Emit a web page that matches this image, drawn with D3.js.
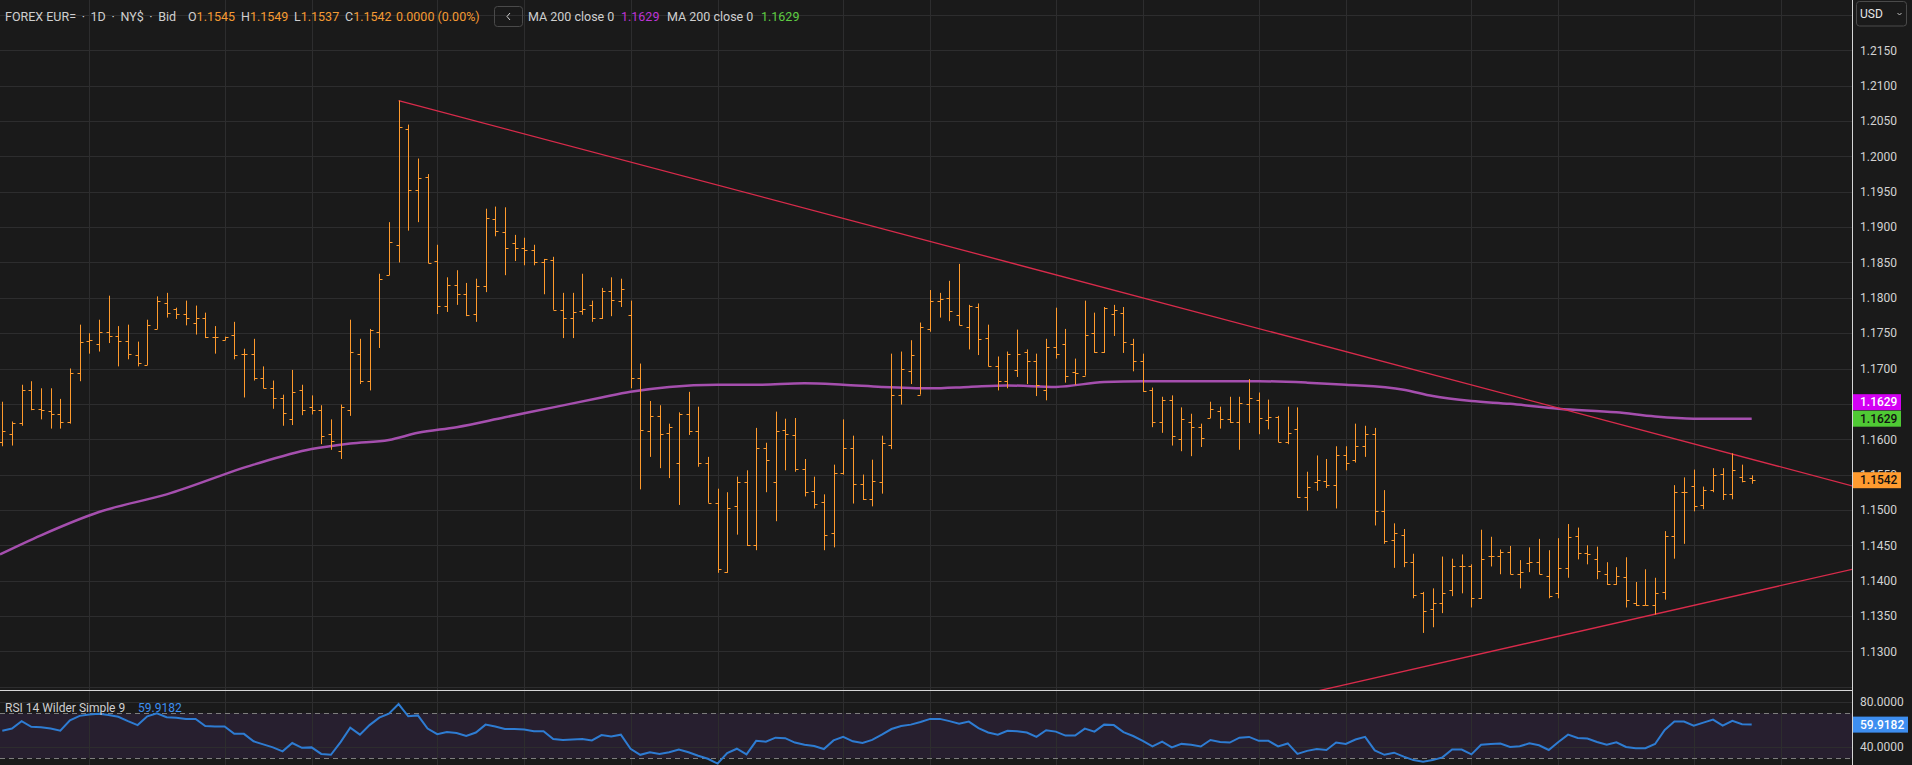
<!DOCTYPE html>
<html lang="en">
<head>
<meta charset="UTF-8">
<title>FOREX EUR= 1D</title>
<script src="https://cdn.jsdelivr.net/npm/d3@7"></script>
<style>
  html, body { margin: 0; padding: 0; background: #1a1a1a; overflow: hidden; }
  svg { display: block; font-family: Roboto, "Liberation Sans", Arial, sans-serif; }
</style>
</head>
<body>
<div id="container"></div>
<script>
// daily OHLC bars, oldest first
const open = [
  1.1596, 1.1608, 1.1623, 1.1669, 1.1643, 1.1640, 1.1636, 1.1625, 1.1693, 1.1739,
  1.1734, 1.1751, 1.1746, 1.1739, 1.1719, 1.1705, 1.1756, 1.1793, 1.1784, 1.1777,
  1.1765, 1.1771, 1.1744, 1.1741, 1.1747, 1.1721, 1.1721, 1.1687, 1.1672, 1.1658,
  1.1629, 1.1669, 1.1645, 1.1641, 1.1608, 1.1583, 1.1641, 1.1721, 1.1682, 1.1751,
  1.1832, 1.1874, 1.2039, 1.1952, 1.1971, 1.1852, 1.1789, 1.1818, 1.1805, 1.1777,
  1.1816, 1.1912, 1.1893, 1.1878, 1.1870, 1.1868, 1.1850, 1.1853, 1.1783, 1.1771,
  1.1781, 1.1790, 1.1771, 1.1810, 1.1795, 1.1776, 1.1687, 1.1612, 1.1633, 1.1609,
  1.1566, 1.1636, 1.1612, 1.1566, 1.1510, 1.1412, 1.1506, 1.1540, 1.1450, 1.1588,
  1.1540, 1.1613, 1.1606, 1.1558, 1.1527, 1.1511, 1.1467, 1.1552, 1.1588, 1.1536,
  1.1516, 1.1540, 1.1592, 1.1663, 1.1697, 1.1663, 1.1756, 1.1796, 1.1800, 1.1776,
  1.1759, 1.1787, 1.1743, 1.1703, 1.1682, 1.1698, 1.1724, 1.1711, 1.1669, 1.1731,
  1.1734, 1.1695, 1.1690, 1.1750, 1.1723, 1.1777, 1.1779, 1.1735, 1.1711, 1.1669,
  1.1624, 1.1656, 1.1600, 1.1624, 1.1617, 1.1630, 1.1640, 1.1629, 1.1624, 1.1650,
  1.1656, 1.1627, 1.1631, 1.1596, 1.1614, 1.1518, 1.1540, 1.1541, 1.1535, 1.1577,
  1.1571, 1.1591, 1.1607, 1.1498, 1.1458, 1.1464, 1.1426, 1.1383, 1.1360, 1.1369,
  1.1386, 1.1421, 1.1421, 1.1375, 1.1435, 1.1435, 1.1441, 1.1409, 1.1425, 1.1426,
  1.1407, 1.1383, 1.1418, 1.1463, 1.1439, 1.1430, 1.1410, 1.1395, 1.1405, 1.1368,
  1.1366, 1.1366, 1.1384, 1.1463, 1.1525, 1.1534, 1.1507, 1.1528, 1.1551, 1.1522,
  1.1547, 1.1545
]
const high = [
  1.1653, 1.1625, 1.1677, 1.1682, 1.1672, 1.1672, 1.1657, 1.1700, 1.1762, 1.1750,
  1.1769, 1.1803, 1.1760, 1.1762, 1.1738, 1.1769, 1.1802, 1.1807, 1.1786, 1.1796,
  1.1789, 1.1779, 1.1760, 1.1745, 1.1766, 1.1728, 1.1742, 1.1703, 1.1683, 1.1663,
  1.1698, 1.1677, 1.1662, 1.1648, 1.1628, 1.1649, 1.1769, 1.1742, 1.1756, 1.1834,
  1.1907, 1.2079, 1.2045, 1.1997, 1.1975, 1.1875, 1.1829, 1.1839, 1.1821, 1.1827,
  1.1926, 1.1929, 1.1928, 1.1889, 1.1885, 1.1875, 1.1855, 1.1858, 1.1807, 1.1807,
  1.1834, 1.1796, 1.1814, 1.1829, 1.1827, 1.1796, 1.1707, 1.1654, 1.1648, 1.1622,
  1.1638, 1.1667, 1.1646, 1.1575, 1.1530, 1.1525, 1.1547, 1.1556, 1.1616, 1.1595,
  1.1639, 1.1629, 1.1630, 1.1572, 1.1547, 1.1522, 1.1564, 1.1628, 1.1605, 1.1550,
  1.1571, 1.1605, 1.1721, 1.1724, 1.1740, 1.1765, 1.1811, 1.1807, 1.1824, 1.1848,
  1.1790, 1.1792, 1.1762, 1.1717, 1.1724, 1.1755, 1.1727, 1.1721, 1.1742, 1.1786,
  1.1756, 1.1714, 1.1796, 1.1779, 1.1787, 1.1790, 1.1787, 1.1742, 1.1721, 1.1673,
  1.1660, 1.1662, 1.1645, 1.1636, 1.1622, 1.1653, 1.1646, 1.1660, 1.1660, 1.1685,
  1.1666, 1.1656, 1.1633, 1.1646, 1.1645, 1.1554, 1.1577, 1.1572, 1.1590, 1.1590,
  1.1622, 1.1619, 1.1616, 1.1528, 1.1481, 1.1473, 1.1438, 1.1384, 1.1389, 1.1434,
  1.1431, 1.1437, 1.1423, 1.1472, 1.1462, 1.1444, 1.1449, 1.1429, 1.1447, 1.1459,
  1.1443, 1.1460, 1.1480, 1.1475, 1.1450, 1.1448, 1.1426, 1.1419, 1.1433, 1.1398,
  1.1416, 1.1404, 1.1470, 1.1535, 1.1546, 1.1557, 1.1533, 1.1559, 1.1559, 1.1580,
  1.1564, 1.1549
]
const low = [
  1.1590, 1.1591, 1.1619, 1.1641, 1.1628, 1.1615, 1.1615, 1.1622, 1.1682, 1.1721,
  1.1724, 1.1736, 1.1703, 1.1713, 1.1703, 1.1705, 1.1756, 1.1772, 1.1770, 1.1761,
  1.1748, 1.1743, 1.1721, 1.1740, 1.1713, 1.1659, 1.1683, 1.1672, 1.1643, 1.1619,
  1.1620, 1.1634, 1.1635, 1.1593, 1.1585, 1.1572, 1.1633, 1.1678, 1.1669, 1.1729,
  1.1832, 1.1850, 1.1895, 1.1907, 1.1849, 1.1777, 1.1780, 1.1790, 1.1774, 1.1766,
  1.1808, 1.1887, 1.1832, 1.1852, 1.1846, 1.1846, 1.1805, 1.1783, 1.1743, 1.1743,
  1.1776, 1.1766, 1.1770, 1.1774, 1.1787, 1.1672, 1.1529, 1.1575, 1.1559, 1.1545,
  1.1507, 1.1606, 1.1561, 1.1510, 1.1411, 1.1411, 1.1465, 1.1449, 1.1443, 1.1525,
  1.1484, 1.1556, 1.1554, 1.1519, 1.1502, 1.1443, 1.1447, 1.1550, 1.1509, 1.1514,
  1.1505, 1.1523, 1.1586, 1.1649, 1.1678, 1.1663, 1.1752, 1.1772, 1.1767, 1.1761,
  1.1727, 1.1719, 1.1703, 1.1669, 1.1672, 1.1688, 1.1678, 1.1661, 1.1655, 1.1714,
  1.1680, 1.1677, 1.1690, 1.1722, 1.1722, 1.1746, 1.1722, 1.1696, 1.1667, 1.1617,
  1.1609, 1.1591, 1.1583, 1.1576, 1.1589, 1.1630, 1.1615, 1.1623, 1.1585, 1.1623,
  1.1607, 1.1614, 1.1596, 1.1593, 1.1517, 1.1499, 1.1527, 1.1531, 1.1502, 1.1556,
  1.1567, 1.1575, 1.1478, 1.1452, 1.1418, 1.1419, 1.1375, 1.1326, 1.1334, 1.1354,
  1.1378, 1.1382, 1.1362, 1.1374, 1.1420, 1.1409, 1.1409, 1.1389, 1.1412, 1.1409,
  1.1375, 1.1375, 1.1404, 1.1430, 1.1423, 1.1402, 1.1394, 1.1394, 1.1362, 1.1364,
  1.1365, 1.1352, 1.1373, 1.1431, 1.1452, 1.1498, 1.1501, 1.1525, 1.1514, 1.1515,
  1.1539, 1.1537
]
const close = [
  1.1611, 1.1623, 1.1669, 1.1643, 1.1642, 1.1636, 1.1625, 1.1693, 1.1738, 1.1741,
  1.1751, 1.1746, 1.1739, 1.1721, 1.1708, 1.1761, 1.1795, 1.1779, 1.1777, 1.1771,
  1.1771, 1.1745, 1.1744, 1.1744, 1.1719, 1.1721, 1.1687, 1.1672, 1.1658, 1.1637,
  1.1667, 1.1641, 1.1641, 1.1605, 1.1597, 1.1646, 1.1723, 1.1682, 1.1754, 1.1827,
  1.1879, 1.2042, 1.1952, 1.1969, 1.1849, 1.1789, 1.1818, 1.1805, 1.1776, 1.1817,
  1.1913, 1.1895, 1.1871, 1.1870, 1.1868, 1.1850, 1.1855, 1.1783, 1.1771, 1.1780,
  1.1784, 1.1771, 1.1810, 1.1797, 1.1812, 1.1687, 1.1613, 1.1633, 1.1607, 1.1617,
  1.1636, 1.1611, 1.1566, 1.1510, 1.1416, 1.1502, 1.1539, 1.1450, 1.1588, 1.1570,
  1.1612, 1.1607, 1.1558, 1.1526, 1.1509, 1.1465, 1.1552, 1.1588, 1.1536, 1.1516,
  1.1541, 1.1595, 1.1663, 1.1700, 1.1719, 1.1758, 1.1795, 1.1799, 1.1781, 1.1761,
  1.1788, 1.1742, 1.1703, 1.1682, 1.1721, 1.1721, 1.1711, 1.1677, 1.1731, 1.1721,
  1.1690, 1.1693, 1.1748, 1.1724, 1.1785, 1.1783, 1.1737, 1.1711, 1.1668, 1.1624,
  1.1656, 1.1604, 1.1628, 1.1617, 1.1602, 1.1643, 1.1629, 1.1624, 1.1651, 1.1658,
  1.1630, 1.1632, 1.1596, 1.1609, 1.1518, 1.1533, 1.1542, 1.1535, 1.1577, 1.1567,
  1.1591, 1.1607, 1.1498, 1.1456, 1.1467, 1.1426, 1.1380, 1.1357, 1.1369, 1.1383,
  1.1420, 1.1421, 1.1375, 1.1431, 1.1435, 1.1441, 1.1410, 1.1412, 1.1427, 1.1410,
  1.1378, 1.1418, 1.1462, 1.1439, 1.1438, 1.1413, 1.1395, 1.1407, 1.1373, 1.1365,
  1.1365, 1.1383, 1.1463, 1.1526, 1.1525, 1.1505, 1.1528, 1.1550, 1.1522, 1.1557,
  1.1541, 1.1542
]
// RSI 14, one value per bar
const rsi = [
  54.5, 56.4, 63.0, 58.0, 57.6, 56.4, 54.5, 63.8, 67.7, 68.8,
  69.6, 68.4, 66.9, 63.0, 59.5, 67.3, 70.0, 66.5, 66.1, 65.0,
  65.0, 58.7, 58.3, 58.3, 51.7, 51.7, 45.1, 42.4, 39.7, 36.2,
  43.6, 39.3, 39.7, 33.9, 33.1, 44.4, 57.2, 51.0, 59.5, 66.1,
  69.6, 78.2, 67.3, 68.1, 56.4, 51.4, 53.3, 52.5, 49.8, 52.9,
  59.9, 58.3, 56.0, 56.0, 55.6, 54.1, 54.1, 47.1, 46.3, 46.7,
  47.1, 45.9, 50.6, 49.4, 51.0, 38.5, 33.1, 35.4, 33.9, 35.4,
  37.8, 35.4, 32.3, 29.6, 25.3, 34.7, 38.5, 33.5, 45.5, 44.8,
  48.3, 47.9, 44.0, 42.0, 40.9, 38.2, 45.9, 49.0, 45.1, 43.6,
  46.3, 51.0, 56.0, 58.7, 59.9, 62.2, 65.0, 65.0, 63.0, 60.7,
  62.6, 56.8, 52.9, 51.0, 54.5, 54.1, 52.9, 49.0, 54.9, 53.7,
  50.2, 50.2, 56.4, 53.7, 59.9, 59.5, 53.3, 49.8, 45.5, 40.5,
  44.8, 39.7, 42.8, 42.0, 40.5, 46.3, 44.4, 44.0, 48.3, 49.0,
  45.5, 45.5, 40.5, 43.2, 33.9, 36.6, 38.2, 37.4, 44.0, 42.8,
  46.7, 49.0, 37.0, 33.1, 35.0, 31.5, 28.4, 26.9, 28.4, 30.8,
  37.8, 37.8, 33.5, 42.0, 42.8, 43.2, 40.1, 40.7, 43.3, 41.6,
  37.4, 44.5, 51.0, 48.1, 47.5, 44.5, 42.1, 44.2, 40.1, 38.9,
  38.9, 42.7, 55.2, 62.6, 62.6, 59.0, 61.7, 64.4, 59.0, 63.2,
  60.2, 59.9182
]
// 200-day moving average, read at a handful of bar positions
const maIdx = [-0.24, 4, 10, 17, 26, 32, 36, 40, 43, 47, 52, 57, 62, 65, 69, 74, 78, 83, 87, 91,
  96, 100, 104, 109, 114, 118, 123, 130, 135, 139, 145, 148, 152, 156, 161, 167, 171, 175, 181]
const maVal = [1.1437, 1.1464, 1.1497, 1.1522, 1.1564, 1.1586, 1.1594, 1.1599, 1.1609, 1.1617,
  1.1631, 1.1645, 1.1659, 1.1667, 1.1674, 1.1677, 1.1677, 1.1679, 1.1677, 1.1674,
  1.1672, 1.1674, 1.1676, 1.1674, 1.1681, 1.1682, 1.1682, 1.1682, 1.1680, 1.1677,
  1.1670, 1.1661, 1.1654, 1.1650, 1.1643, 1.1638, 1.1632, 1.1629, 1.1629]
// drawn trend lines: [bar position, price] at each end
const upperTrend = [[41, 1.2079], [191.4, 1.1534]]
const lowerTrend = [[130, 1.1225], [191.4, 1.1416]]

const priceTicks = [1.2150, 1.2100, 1.2050, 1.2000, 1.1950, 1.1900, 1.1850, 1.1800, 1.1750,
  1.1700, 1.1650, 1.1600, 1.1550, 1.1500, 1.1450, 1.1400, 1.1350, 1.1300]
const rsiTicks = [80, 40]
const rsiBand = [70, 30]
const timeGrid = [9, 23, 32, 45, 54, 65, 74, 87, 96, 109, 118, 130, 139, 152, 161, 175, 184]

const lastClose = 1.1542, maLast = 1.1629, rsiLast = 59.9182

const W = 1912, H = 765
const plotR = 1852, mainB = 690, rsiT = 691
const bg = "#1a1a1a", grid = "#2d2d2e", barCol = "#ff9a2c"

const svg = d3.select("#container").append("svg").attr("width", W).attr("height", H)
svg.append("rect").attr("width", W).attr("height", H).attr("fill", bg)

const x = d3.scaleLinear().domain([0, 181]).range([2.3, 1751.7])
const y = d3.scaleLinear().domain([1.13, 1.215]).range([651.3, 50.35])
const ry = d3.scaleLinear().domain([30, 80]).range([758.3, 702])

const defs = svg.append("defs")
defs.append("clipPath").attr("id", "clipMain").append("rect").attr("width", plotR).attr("height", mainB)
defs.append("clipPath").attr("id", "clipRsi").append("rect").attr("y", rsiT).attr("width", plotR).attr("height", H - rsiT)

const crisp = v => Math.round(v) + 0.5

// price grid, every 0.005 across the whole panel
const gridPrices = d3.scaleLinear().domain([y.invert(mainB), y.invert(0)]).ticks(20)
svg.append("g").selectAll("line").data(gridPrices).join("line")
  .attr("x1", 0).attr("x2", plotR).attr("y1", d => crisp(y(d))).attr("y2", d => crisp(y(d)))
  .attr("stroke", grid)

// RSI band and grid
svg.append("rect").attr("x", 0).attr("width", plotR)
  .attr("y", ry(rsiBand[0])).attr("height", ry(rsiBand[1]) - ry(rsiBand[0]))
  .attr("fill", "#271f2f")
svg.append("g").selectAll("line").data(rsiTicks).join("line")
  .attr("x1", 0).attr("x2", plotR).attr("y1", d => crisp(ry(d))).attr("y2", d => crisp(ry(d)))
  .attr("stroke", grid)

// date grid
svg.append("g").selectAll("line").data(timeGrid).join("line")
  .attr("x1", d => crisp(x(d))).attr("x2", d => crisp(x(d))).attr("y1", 0).attr("y2", H)
  .attr("stroke", grid)

svg.append("g").selectAll("line").data(rsiBand).join("line")
  .attr("x1", 0).attr("x2", plotR).attr("y1", d => crisp(ry(d))).attr("y2", d => crisp(ry(d)))
  .attr("stroke", "#7d7d7d").attr("stroke-dasharray", "5,4")

const main = svg.append("g").attr("clip-path", "url(#clipMain)")

// MA 200
const maLine = d3.line().x(d => x(d[0])).y(d => y(d[1])).curve(d3.curveMonotoneX)
main.append("path").datum(maIdx.map((d, i) => [d, maVal[i]]))
  .attr("d", maLine).attr("fill", "none").attr("stroke", "#a54fae").attr("stroke-width", 2.5)

// trend lines
const tLine = d3.line().x(d => x(d[0])).y(d => y(d[1]))
main.selectAll(".trend").data([upperTrend, lowerTrend]).join("path").attr("class", "trend")
  .attr("d", tLine).attr("fill", "none").attr("stroke", "#d92b4b").attr("stroke-width", 1.3)

// OHLC bars
const bars = main.append("g").attr("stroke", barCol).attr("stroke-width", 1)
const idx = d3.range(close.length)
bars.selectAll(".hl").data(idx).join("line").attr("class", "hl")
  .attr("x1", i => crisp(x(i))).attr("x2", i => crisp(x(i)))
  .attr("y1", i => y(high[i])).attr("y2", i => y(low[i]))
bars.selectAll(".op").data(idx).join("line").attr("class", "op")
  .attr("x1", i => crisp(x(i)) - 3).attr("x2", i => crisp(x(i)))
  .attr("y1", i => crisp(y(open[i]))).attr("y2", i => crisp(y(open[i])))
bars.selectAll(".cl").data(idx).join("line").attr("class", "cl")
  .attr("x1", i => crisp(x(i))).attr("x2", i => crisp(x(i)) + 3)
  .attr("y1", i => crisp(y(close[i]))).attr("y2", i => crisp(y(close[i])))

// RSI line
svg.append("g").attr("clip-path", "url(#clipRsi)").append("path").datum(rsi)
  .attr("d", d3.line().x((d, i) => x(i)).y(d => ry(d)))
  .attr("fill", "none").attr("stroke", "#2e7cd2").attr("stroke-width", 2)

// separators
svg.append("line").attr("x1", 0).attr("x2", plotR).attr("y1", mainB + 0.5).attr("y2", mainB + 0.5)
  .attr("stroke", "#d6d6d6")
svg.append("line").attr("x1", plotR + 0.5).attr("x2", plotR + 0.5).attr("y1", 0).attr("y2", H)
  .attr("stroke", "#d6d6d6")

// right axes
const yAxis = svg.append("g").attr("transform", `translate(${plotR},0)`)
  .call(d3.axisRight(y).tickValues(priceTicks).tickFormat(d3.format(".4f")).tickSize(0).tickPadding(8))
const rAxis = svg.append("g").attr("transform", `translate(${plotR},0)`)
  .call(d3.axisRight(ry).tickValues(rsiTicks).tickFormat(d3.format(".4f")).tickSize(0).tickPadding(8))
for (const ax of [yAxis, rAxis]) {
  ax.select(".domain").remove()
  ax.selectAll("text").attr("fill", "#d2d2d2").attr("font-size", 12)
    .attr("font-family", "Roboto, 'Liberation Sans', Arial, sans-serif")
}

// last value tags (the MA tag is pushed up so it does not sit on the close tag)
const tags = [
  { v: y(maLast) - 16.5, t: d3.format(".4f")(maLast), bg: "#d400f4", fg: "#ffffff", w: 48 },
  { v: y(maLast), t: d3.format(".4f")(maLast), bg: "#4fc934", fg: "#111111", w: 48 },
  { v: y(lastClose), t: d3.format(".4f")(lastClose), bg: "#ff9b2f", fg: "#111111", w: 48 },
  { v: ry(rsiLast), t: d3.format(".4f")(rsiLast), bg: "#3d8ef0", fg: "#ffffff", w: 55 }
]
const tg = svg.append("g").selectAll("g").data(tags).join("g")
tg.append("rect").attr("x", plotR + 1).attr("y", d => d.v - 8).attr("width", d => d.w).attr("height", 16)
  .attr("fill", d => d.bg)
tg.append("text").attr("x", plotR + 8).attr("y", d => d.v).attr("dy", "0.35em")
  .attr("font-size", 12).attr("font-weight", 500).attr("fill", d => d.fg).text(d => d.t)

// USD selector
svg.append("rect").attr("x", 1856.5).attr("y", 1.5).attr("width", 50).attr("height", 24.5).attr("rx", 3)
  .attr("fill", "none").attr("stroke", "#4a4a4a")
svg.append("text").attr("x", 1860).attr("y", 18).attr("font-size", 12).attr("fill", "#e6e6e6").text("USD")
svg.append("path").attr("d", "M1897.5,13 L1899.5,15 L1901.5,13").attr("fill", "none").attr("stroke", "#bdbdbd")

// header legend
const f4 = d3.format(".4f")
const sep = "\u2009·\u2009"
const head = svg.append("g").attr("font-size", 12.5)
head.append("text").attr("x", 5).attr("y", 21).attr("fill", "#cfcfcf")
  .text(`FOREX EUR= ${sep} 1D ${sep} NY$ ${sep} Bid`)
const ohlc = [["O", open.at(-1), 188], ["H", high.at(-1), 241], ["L", low.at(-1), 294], ["C", close.at(-1), 345]]
ohlc.forEach(([k, v, px]) => {
  const t = head.append("text").attr("x", px).attr("y", 21)
  t.append("tspan").attr("fill", "#cfcfcf").text(k)
  t.append("tspan").attr("fill", "#f59a33").text(f4(v))
})
head.append("text").attr("x", 396).attr("y", 21).attr("fill", "#f59a33").text("0.0000 (0.00%)")
head.append("rect").attr("x", 494.5).attr("y", 6.5).attr("width", 28).attr("height", 20).attr("rx", 3)
  .attr("fill", "none").attr("stroke", "#4a4a4a")
head.append("path").attr("d", "M510,13 L507,16.5 L510,20").attr("fill", "none").attr("stroke", "#d0d0d0")
head.append("text").attr("x", 528).attr("y", 21).attr("fill", "#cfcfcf").text("MA 200 close 0")
head.append("text").attr("x", 621).attr("y", 21).attr("fill", "#bd34d6").text(f4(maLast))
head.append("text").attr("x", 667).attr("y", 21).attr("fill", "#cfcfcf").text("MA 200 close 0")
head.append("text").attr("x", 761).attr("y", 21).attr("fill", "#5fcd43").text(f4(maLast))

// RSI legend
const rl = svg.append("g").attr("font-size", 12)
rl.append("text").attr("x", 5).attr("y", 711.5).attr("fill", "#cfcfcf").text("RSI 14 Wilder Simple 9")
rl.append("text").attr("x", 138).attr("y", 711.5).attr("fill", "#3d8ef0").text(f4(rsiLast))
</script>
</body>
</html>
